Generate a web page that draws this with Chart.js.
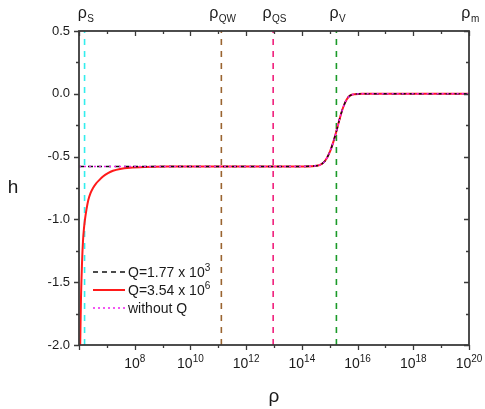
<!DOCTYPE html>
<html>
<head>
<meta charset="utf-8">
<script src="https://cdn.jsdelivr.net/npm/chart.js@4.4.1/dist/chart.umd.min.js"></script>
<style>
  html, body { margin: 0; padding: 0; background: #fff; }
  #wrap { width: 485px; height: 409px; }
</style>
</head>
<body>
<div id="wrap"><canvas id="myChart" width="485" height="409"></canvas></div>
<script>
// x values are stored as log10(rho), converted when building the datasets
let redExp = [6.043, 6.072, 6.108, 6.144, 6.179, 6.215, 6.269, 6.334, 6.413, 6.503, 6.61, 6.736, 6.861, 7.041, 7.22, 7.472, 7.831, 8.369, 9.266, 11, 13.932, 14.471, 14.65, 14.83, 15.009, 15.127, 15.25, 15.368, 15.487, 15.609, 15.727, 15.907, 16.158, 17, 20];
let redH   = [-2.0, -1.62, -1.35, -1.17, -1.07, -1.0, -0.92, -0.845, -0.79, -0.75, -0.715, -0.685, -0.658, -0.632, -0.613, -0.598, -0.588, -0.582, -0.579, -0.578, -0.578, -0.574, -0.566, -0.535, -0.46, -0.385, -0.29, -0.19, -0.105, -0.045, -0.015, -0.003, 0, 0, 0];

let flatExp = [6, 8, 11, 13.932, 14.471, 14.65, 14.83, 15.009, 15.127, 15.25, 15.368, 15.487, 15.609, 15.727, 15.907, 16.158, 17, 20];
let flatH   = [-0.578, -0.578, -0.578, -0.578, -0.574, -0.566, -0.535, -0.46, -0.385, -0.29, -0.19, -0.105, -0.045, -0.015, -0.003, 0, 0, 0];

let markNames = ['S', 'QW', 'QS', 'V', 'm'];
let markExp = [6.2, 11.11, 12.97, 15.24, 20];
let markColors = ['#33eeee', '#9a6430', '#f0207c', '#1a9a28', null];

let xTickExp = [8, 10, 12, 14, 16, 18, 20];
let yTicks = [0.5, 0.0, -0.5, -1.0, -1.5, -2.0];

let legendLabels = ['Q=1.77 x 10', 'Q=3.54 x 10', 'without Q'];
let legendSup = ['3', '6', ''];

const fontName = "Arial, 'Liberation Sans', sans-serif";
const axisCol = '#3a3a3a';
const textCol = '#1a1a1a';

function toPoints(exps, hs) {
    return exps.map((e, i) => ({ x: Math.pow(10, e), y: hs[i] }));
}

let curveDefaults = { pointRadius: 0, fill: false, cubicInterpolationMode: 'monotone' };

let datasets = [
    Object.assign({ label: legendLabels[2], data: toPoints(flatExp, flatH), borderColor: '#ee22ee', borderWidth: 1.5, borderDash: [2, 3] }, curveDefaults),
    Object.assign({ label: legendLabels[0], data: toPoints(flatExp, flatH), borderColor: '#111111', borderWidth: 1.5, borderDash: [5, 4] }, curveDefaults),
    Object.assign({ label: legendLabels[1], data: toPoints(redExp, redH), borderColor: '#ff1a1a', borderWidth: 2 }, curveDefaults)
];

// vertical dashed markers
markExp.forEach((e, i) => {
    if (!markColors[i]) return;
    datasets.push({
        label: 'rho_' + markNames[i],
        data: [{ x: Math.pow(10, e), y: -2 }, { x: Math.pow(10, e), y: 0.5 }],
        borderColor: markColors[i],
        borderWidth: 1.6,
        borderDash: [6, 6],
        pointRadius: 0,
        tension: 0
    });
});

function supText(ctx, base, sup, x, y, size, align) {
    ctx.font = size + 'px ' + fontName;
    let w1 = ctx.measureText(base).width;
    ctx.font = Math.round(size * 0.68) + 'px ' + fontName;
    let w2 = ctx.measureText(sup).width;
    let start = align === 'center' ? x - (w1 + w2) / 2 : x;
    ctx.textAlign = 'left';
    ctx.textBaseline = 'alphabetic';
    ctx.font = size + 'px ' + fontName;
    ctx.fillText(base, start, y);
    ctx.font = Math.round(size * 0.68) + 'px ' + fontName;
    ctx.fillText(sup, start + w1, y - size * 0.42);
}

function subText(ctx, base, sub, x, y, size) {
    ctx.font = size + 'px ' + fontName;
    let w1 = ctx.measureText(base).width;
    ctx.font = Math.round(size * 0.65) + 'px ' + fontName;
    let w2 = ctx.measureText(sub).width;
    let start = Math.min(x - (w1 + w2) / 2, 485 - w1 - w2 - 1);
    ctx.textAlign = 'left';
    ctx.textBaseline = 'alphabetic';
    ctx.font = size + 'px ' + fontName;
    ctx.fillText(base, start, y);
    ctx.font = Math.round(size * 0.65) + 'px ' + fontName;
    ctx.fillText(sub, start + w1 + 0.5, y + size * 0.28);
}

const framePlugin = {
    id: 'frame',
    afterDraw(chart) {
        let ctx = chart.ctx;
        let a = chart.chartArea;
        let xs = chart.scales.x, ys = chart.scales.y;
        ctx.save();
        ctx.strokeStyle = axisCol;
        ctx.fillStyle = textCol;

        // ticks on all four sides
        ctx.lineWidth = 1.3;
        ctx.beginPath();
        for (let n = 6; n <= 20; n++) {
            let px = Math.round(xs.getPixelForValue(Math.pow(10, n))) + 0.5;
            let len = n % 2 === 0 ? 5 : 3;
            ctx.moveTo(px, a.bottom); ctx.lineTo(px, a.bottom + len);
            ctx.moveTo(px, a.top); ctx.lineTo(px, a.top + len);
        }
        for (let v = -2; v <= 0.5; v += 0.25) {
            let py = Math.round(ys.getPixelForValue(v)) + 0.5;
            let len = Math.abs(v * 2 - Math.round(v * 2)) < 1e-6 ? 5 : 3;
            ctx.moveTo(a.left, py); ctx.lineTo(a.left - len, py);
            ctx.moveTo(a.right, py); ctx.lineTo(a.right - len, py);
        }
        ctx.stroke();

        // box
        ctx.lineWidth = 1.8;
        ctx.strokeRect(a.left, a.top, a.right - a.left, a.bottom - a.top);

        // x tick labels 10^n
        xTickExp.forEach(n => {
            let px = xs.getPixelForValue(Math.pow(10, n));
            supText(ctx, '10', String(n), px, 368, 14, 'center');
        });

        // top rho labels
        markExp.forEach((e, i) => {
            let px = xs.getPixelForValue(Math.pow(10, e));
            subText(ctx, 'ρ', markNames[i], px + 1, 18, 16);
        });

        // axis titles
        ctx.font = '19px ' + fontName;
        ctx.textAlign = 'center';
        ctx.textBaseline = 'middle';
        ctx.fillText('h', 13, 188);
        ctx.fillText('ρ', 274, 397);

        // legend
        let legendOrder = [1, 2, 0];
        legendOrder.forEach((di, k) => {
            let ds = chart.data.datasets[di];
            let ly = 272 + k * 18;
            ctx.strokeStyle = ds.borderColor;
            ctx.lineWidth = ds.borderWidth;
            ctx.setLineDash(ds.borderDash || []);
            ctx.beginPath();
            ctx.moveTo(93, ly); ctx.lineTo(125, ly);
            ctx.stroke();
            ctx.setLineDash([]);
            ctx.fillStyle = textCol;
            supText(ctx, legendLabels[k], legendSup[k], 128, ly + 5, 14, 'left');
        });
        ctx.restore();
    }
};

let myChart = document.getElementById('myChart').getContext('2d');
let hChart = new Chart(myChart, {
    type: 'line',
    data: { datasets: datasets },
    options: {
        responsive: false,
        animation: false,
        layout: { padding: { top: 31, right: 16, left: 0, bottom: 0 } },
        plugins: { legend: { display: false }, tooltip: { enabled: false } },
        scales: {
            x: {
                type: 'logarithmic',
                min: 1e6,
                max: 1e20,
                grid: { display: false },
                border: { display: false },
                ticks: { display: false },
                afterFit: s => { s.height = 64; }
            },
            y: {
                type: 'linear',
                min: -2,
                max: 0.5,
                grid: { display: false, drawTicks: false },
                border: { display: false },
                afterBuildTicks: s => { s.ticks = yTicks.map(v => ({ value: v })); },
                ticks: {
                    padding: 9,
                    color: textCol,
                    font: { family: fontName, size: 13 },
                    callback: v => v.toFixed(1)
                },
                afterFit: s => { s.width = 79; }
            }
        }
    },
    plugins: [framePlugin]
});
</script>
</body>
</html>
